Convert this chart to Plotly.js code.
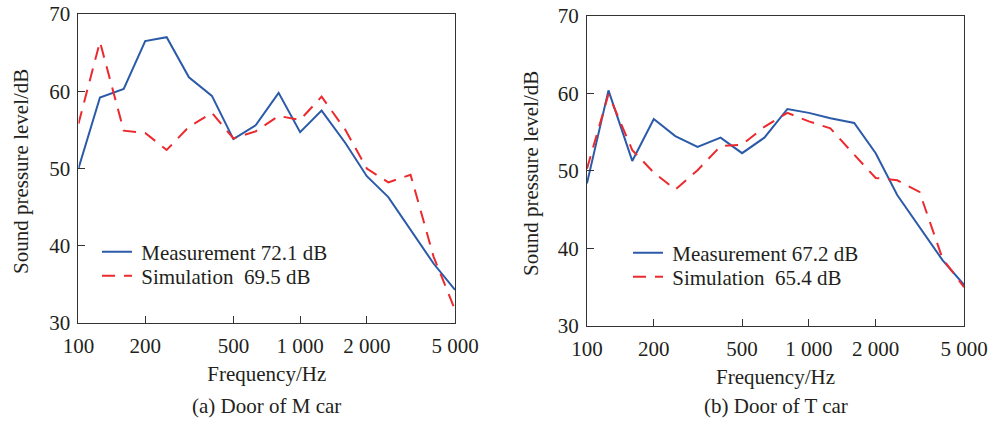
<!DOCTYPE html>
<html>
<head>
<meta charset="utf-8">
<script src="https://cdn.plot.ly/plotly-3.0.1.min.js"></script>
<style>html,body{margin:0;padding:0;background:#fff;}#chart{width:992px;height:421px;}</style>
</head>
<body>
<div id="chart"></div>
<script>
const freq = [100,125,160,200,250,315,400,500,630,800,1000,1250,1600,2000,2500,3150,4000,5000];
const measM = [50.0,59.2,60.3,66.5,67.0,61.8,59.4,53.8,55.6,59.8,54.7,57.5,53.3,49.0,46.3,42.0,37.7,34.3];
const simM  = [55.8,66.4,54.9,54.6,52.4,55.4,57.2,53.9,54.8,56.8,56.3,59.3,55.0,50.0,48.2,49.2,38.6,31.7];
const measT = [48.4,60.4,51.3,56.7,54.5,53.1,54.3,52.3,54.3,58.0,57.5,56.8,56.2,52.3,46.9,42.8,38.5,35.3];
const simT  = [50.3,59.9,52.7,49.8,47.6,50.1,53.2,53.4,55.7,57.5,56.4,55.5,52.1,49.1,48.8,47.3,38.7,35.0];
const tickVals = [100,200,500,1000,2000,5000];
const tickText = ['100','200','500','1 000','2 000','5 000'];
const namesM = ['\u2009Measurement 72.1 dB','\u2009Simulation\u00a0 69.5 dB'];
const namesT = ['\u2009Measurement 67.2 dB','\u2009Simulation\u00a0 65.4 dB'];
const subTitles = ['(a) Door of M car','(b) Door of T car'];
const yTitle = 'Sound pressure level/dB';

const blue = '#2b5ba8', red = '#ec2a2e';
const font = {family:'"Liberation Serif", "Times New Roman", serif', size:21, color:'#231f20'};

function tr(y, name, color, dash, xa, ya, lg){
  return {x:freq, y:y, name:name, type:'scatter', mode:'lines', xaxis:xa, yaxis:ya, legend:lg,
    showlegend:true, line:{color:color, width:2, dash:dash}};
}
const data = [
  tr(measM, namesM[0], blue, 'solid', 'x', 'y', 'legend'),
  tr(simM, namesM[1], red, '13px,9px', 'x', 'y', 'legend2'),
  tr(measT, namesT[0], blue, 'solid', 'x2', 'y2', 'legend3'),
  tr(simT, namesT[1], red, '13px,9px', 'x2', 'y2', 'legend4')
];
function xax(dom, anchor){
  return {type:'log', domain:dom, anchor:anchor, range:[2, Math.log10(5000)],
    tickvals:tickVals, ticktext:tickText, ticks:'inside', ticklen:7, tickcolor:'#333',
    ticklabelstandoff:4,
    showline:true, linecolor:'#333', linewidth:1, mirror:true, showgrid:false, zeroline:false,
    tickfont:font, title:{text:'Frequency/Hz', font:font, standoff:9}};
}
function yax(dom, anchor){
  return {domain:dom, anchor:anchor, range:[30,70], tickvals:[30,40,50,60,70],
    ticks:'inside', ticklen:7, tickcolor:'#333', ticklabelstandoff:3,
    showline:true, linecolor:'#333', linewidth:1, mirror:true, showgrid:false, zeroline:false,
    tickfont:font};
}
function leg(xp, yp){
  return {x:xp/992, y:(421-yp)/421, font:font, bgcolor:'rgba(0,0,0,0)', borderwidth:0,
    xanchor:'left', yanchor:'middle', itemwidth:30, visible:true};
}
function ann(text, xp, yp, angle){
  return {text:text, xref:'paper', yref:'paper', x:xp/992, y:(421-yp)/421, xanchor:'center', yanchor:'middle',
    showarrow:false, font:font, textangle:angle||0};
}
const layout = {
  width:992, height:421, margin:{l:0,r:0,t:0,b:0},
  paper_bgcolor:'#fff', plot_bgcolor:'#fff', font:font, showlegend:true,
  xaxis: xax([0.0791,0.4587],'y'),
  yaxis: yax([0.2328,0.9667],'x'),
  xaxis2: xax([0.5917,0.9718],'y2'),
  yaxis2: yax([0.2257,0.962],'x2'),
  legend: leg(97, 252),
  legend2: leg(97, 276),
  legend3: leg(628, 253),
  legend4: leg(628, 277),
  annotations:[
    ann(subTitles[0], (78.5+455)/2, 406),
    ann(subTitles[1], (587+964)/2, 406),
    ann(yTitle, 20.5, 171.5, -90),
    ann(yTitle, 530.5, 173.5, -90)
  ]
};
Plotly.newPlot('chart', data, layout, {displayModeBar:false, staticPlot:true});
</script>
</body>
</html>
